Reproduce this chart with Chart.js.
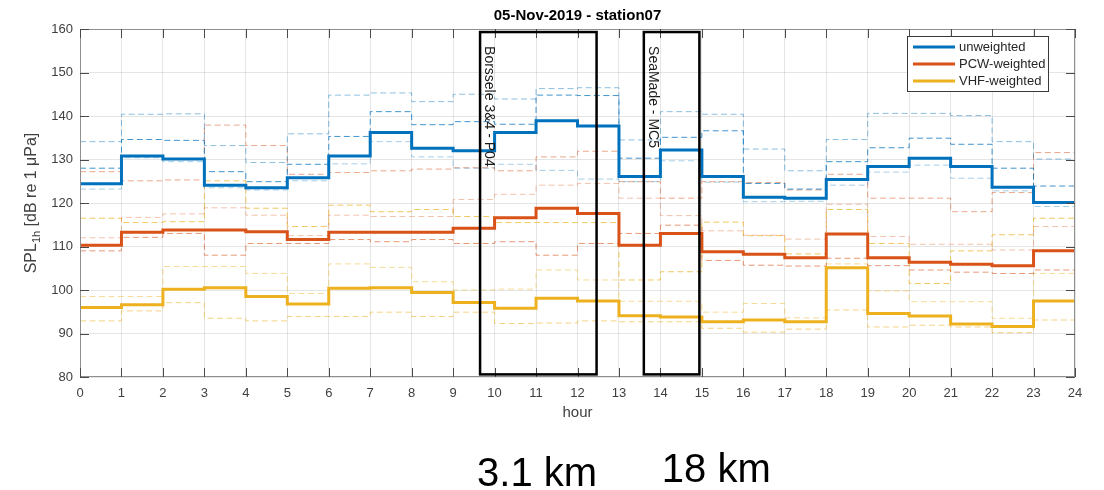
<!DOCTYPE html>
<html>
<head>
<meta charset="utf-8">
<script src="https://cdn.jsdelivr.net/npm/chart.js@4/dist/chart.umd.min.js"></script>
<style>
  html, body { margin: 0; padding: 0; background: #fff; }
  #wrap { position: relative; width: 1104px; height: 490px; }
  canvas { display: block; }
</style>
</head>
<body>
<div id="wrap"><canvas id="c" width="1104" height="490"></canvas></div>
<script>
// Hour bins (each value covers [h, h+1))
const hours = [0,1,2,3,4,5,6,7,8,9,10,11,12,13,14,15,16,17,18,19,20,21,22,23];

// Hourly SPL, dB re 1 µPa
const unweighted  = [124.4,130.8,130.1,124.1,123.5,125.8,130.8,136.2,132.6,132.0,136.2,138.9,137.7,126.1,132.2,126.1,121.3,121.1,125.4,128.4,130.3,128.4,123.6,120.1];
const pcwWeighted = [110.3,113.3,113.8,113.8,113.4,111.6,113.3,113.3,113.3,114.2,116.6,118.8,117.6,110.3,113.0,108.8,108.2,107.4,112.9,107.4,106.4,105.9,105.6,109.0];
const vhfWeighted = [96.0,96.6,100.2,100.5,98.5,96.8,100.4,100.5,99.4,97.1,95.8,98.1,97.5,94.1,93.8,92.7,93.1,92.7,105.1,94.6,94.0,92.2,91.6,97.5];

// Percentile levels (upper / middle / lower) per hour
const unwUpper = [134.1,140.4,140.5,133.2,129.3,135.9,144.8,145.3,143.3,145.0,143.9,146.3,146.5,134.5,141.0,140.4,132.4,127.4,134.6,140.6,140.6,140.1,134.1,130.1];
const unwMid   = [128.0,134.6,134.4,127.2,124.9,128.9,135.3,141.0,138.0,138.7,138.1,144.8,144.7,130.3,135.1,136.6,124.5,123.2,129.5,132.7,134.9,133.5,128.0,123.9];
const unwLower = [123.2,130.4,129.5,123.5,123.0,125.1,129.0,134.1,130.6,128.0,128.9,127.5,125.5,124.9,129.7,124.8,120.3,120.4,124.1,127.1,128.7,125.7,122.8,119.2];

const pcwUpper = [127.2,125.1,125.3,137.9,133.2,126.6,127.0,127.4,127.8,128.1,127.4,130.6,131.9,124.9,121.1,124.9,124.7,123.0,126.6,121.1,121.1,118.0,122.4,131.6];
const pcwMid   = [112.0,116.7,117.5,118.9,117.2,112.5,117.2,116.9,116.9,120.8,122.0,124.1,124.5,121.1,117.1,113.6,112.6,111.7,119.7,112.3,110.5,110.5,109.2,114.6];
const pcwLower = [109.0,112.1,113.0,108.0,110.7,110.7,111.6,111.1,111.6,110.7,111.1,108.0,110.7,113.0,114.9,106.8,105.7,105.5,107.3,105.6,104.6,104.1,103.8,104.6];

const vhfUpper = [116.5,115.5,115.7,125.1,118.8,114.6,119.5,118.0,118.5,116.9,115.5,115.5,115.5,102.3,104.2,115.6,112.5,108.3,118.5,110.7,101.5,109.0,112.7,116.5];
const vhfMid   = [98.5,98.5,105.4,105.4,103.8,99.2,106.0,105.2,101.9,100.0,100.2,104.6,102.3,97.4,97.4,94.9,96.9,93.6,106.0,99.8,97.3,97.3,93.5,103.8];
const vhfLower = [92.9,95.2,97.1,93.5,92.9,93.9,93.9,94.9,93.9,94.9,92.3,92.4,92.9,92.7,92.7,91.2,90.3,91.0,95.4,91.5,91.9,91.5,90.2,93.1];

// Wind-farm construction windows (hour span) and their distances
const farms = [
  { name: 'Borssele 3&4 - P04', from: 9.65, to: 12.46, distance: '3.1 km', dx: -3, base: 486 },
  { name: 'SeaMade - MC5',      from: 13.6, to: 14.94, distance: '18 km',  dx: 18, base: 482 }
];
const farmYRange = [80.6, 159.3];

const BLUE = '0,114,189', ORANGE = '217,83,25', YELLOW = '237,177,32';
const FONT = '"Liberation Sans", Arial, Helvetica, sans-serif';

// stairs: value i is held from hour i to hour i+1
function stairs(vals) {
  const pts = hours.map((h, i) => ({ x: h, y: vals[i] }));
  pts.push({ x: hours[hours.length - 1] + 1, y: vals[vals.length - 1] });
  return pts;
}
function mainSet(label, vals, rgb) {
  return { label, data: stairs(vals), stepped: 'before', borderColor: `rgb(${rgb})`,
           borderWidth: 3, pointRadius: 0, fill: false, order: 0 };
}
function dashSet(label, vals, rgb, alpha) {
  return { label, data: stairs(vals), stepped: 'before', borderColor: `rgba(${rgb},${alpha})`,
           borderWidth: 1, borderDash: [6, 3.5], pointRadius: 0, fill: false, order: 1 };
}

const datasets = [
  dashSet('unweighted upper', unwUpper, BLUE, 0.45),
  dashSet('unweighted mid', unwMid, BLUE, 0.75),
  dashSet('unweighted lower', unwLower, BLUE, 0.35),
  dashSet('PCW upper', pcwUpper, ORANGE, 0.5),
  dashSet('PCW mid', pcwMid, ORANGE, 0.35),
  dashSet('PCW lower', pcwLower, ORANGE, 0.6),
  dashSet('VHF upper', vhfUpper, YELLOW, 0.7),
  dashSet('VHF mid', vhfMid, YELLOW, 0.45),
  dashSet('VHF lower', vhfLower, YELLOW, 0.55),
  mainSet('unweighted', unweighted, BLUE),
  mainSet('PCW-weighted', pcwWeighted, ORANGE),
  mainSet('VHF-weighted', vhfWeighted, YELLOW)
];

// Box, inner ticks, annotations, title, labels and legend
const decor = {
  id: 'decor',
  afterDatasetsDraw(chart) {
    const { ctx, chartArea: a, scales: { x, y } } = chart;
    ctx.save();

    // axes box
    ctx.strokeStyle = '#8f8f8f';
    ctx.lineWidth = 1;
    ctx.strokeRect(a.left + 0.5, a.top + 0.5, a.right - a.left - 1, a.bottom - a.top - 1);

    // inward ticks
    ctx.strokeStyle = '#4a4a4a';
    ctx.beginPath();
    for (let h = 0; h <= 24; h++) {
      const px = Math.round(x.getPixelForValue(h)) + 0.5;
      ctx.moveTo(px, a.bottom); ctx.lineTo(px, a.bottom - 9);
      ctx.moveTo(px, a.top); ctx.lineTo(px, a.top + 9);
    }
    for (let v = 80; v <= 160; v += 10) {
      const py = Math.round(y.getPixelForValue(v)) + 0.5;
      ctx.moveTo(a.left, py); ctx.lineTo(a.left + 9, py);
      ctx.moveTo(a.right, py); ctx.lineTo(a.right - 9, py);
    }
    ctx.stroke();

    // construction windows
    ctx.strokeStyle = '#000';
    ctx.lineWidth = 2.5;
    farms.forEach(f => {
      const x0 = x.getPixelForValue(f.from), x1 = x.getPixelForValue(f.to);
      const y0 = y.getPixelForValue(farmYRange[1]), y1 = y.getPixelForValue(farmYRange[0]);
      ctx.strokeRect(x0, y0, x1 - x0, y1 - y0);
      ctx.save();
      ctx.translate(x0 + 9, y0 + 14);
      ctx.rotate(Math.PI / 2);
      ctx.fillStyle = '#1a1a1a';
      ctx.font = `14px ${FONT}`;
      ctx.textAlign = 'left';
      ctx.textBaseline = 'middle';
      ctx.fillText(f.name, 0, 0);
      ctx.restore();
      // distance label below the plot
      ctx.fillStyle = '#000';
      ctx.font = `40px ${FONT}`;
      ctx.textAlign = 'left';
      ctx.textBaseline = 'alphabetic';
      ctx.fillText(f.distance, x0 + f.dx, f.base);
    });

    // title
    ctx.fillStyle = '#000';
    ctx.font = `bold 15px ${FONT}`;
    ctx.textAlign = 'center';
    ctx.textBaseline = 'middle';
    ctx.fillText('05-Nov-2019 - station07', (a.left + a.right) / 2, 16);

    // x-axis title
    ctx.fillStyle = '#404040';
    ctx.font = `15px ${FONT}`;
    ctx.fillText('hour', (a.left + a.right) / 2, 413);

    // y-axis title with subscript
    ctx.save();
    ctx.translate(32, (a.top + a.bottom) / 2);
    ctx.rotate(-Math.PI / 2);
    const parts = [['SPL', 16, 0], ['1h', 11, 5], [' [dB re 1 μPa]', 16, 0]];
    let total = 0;
    parts.forEach(p => { ctx.font = `${p[1]}px ${FONT}`; total += ctx.measureText(p[0]).width; });
    let cx = -total / 2;
    ctx.textAlign = 'left';
    ctx.textBaseline = 'middle';
    parts.forEach(p => {
      ctx.font = `${p[1]}px ${FONT}`;
      ctx.fillText(p[0], cx, p[2]);
      cx += ctx.measureText(p[0]).width;
    });
    ctx.restore();

    // legend
    const lx = 907, ly = 36, lw = 141, lh = 55;
    ctx.fillStyle = '#fff';
    ctx.fillRect(lx, ly, lw, lh);
    ctx.strokeStyle = '#3a3a3a';
    ctx.lineWidth = 1;
    ctx.strokeRect(lx + 0.5, ly + 0.5, lw, lh);
    const entries = [['unweighted', BLUE], ['PCW-weighted', ORANGE], ['VHF-weighted', YELLOW]];
    ctx.font = `13px ${FONT}`;
    ctx.textAlign = 'left';
    ctx.textBaseline = 'middle';
    entries.forEach((e, i) => {
      const ey = ly + 11 + i * 17;
      ctx.strokeStyle = `rgb(${e[1]})`;
      ctx.lineWidth = 3;
      ctx.beginPath(); ctx.moveTo(lx + 6, ey); ctx.lineTo(lx + 48, ey); ctx.stroke();
      ctx.fillStyle = '#262626';
      ctx.fillText(e[0], lx + 52, ey);
    });
    ctx.restore();
  }
};

new Chart(document.getElementById('c'), {
  type: 'line',
  data: { datasets },
  options: {
    responsive: false,
    animation: false,
    layout: { padding: { top: 29, right: 29, left: 0, bottom: 0 } },
    plugins: { legend: { display: false }, tooltip: { enabled: false }, title: { display: false } },
    scales: {
      x: {
        type: 'linear', min: 0, max: 24,
        ticks: { stepSize: 1, color: '#404040', font: { family: FONT, size: 13 }, padding: 9, maxRotation: 0 },
        grid: { color: 'rgba(38,38,38,0.12)', drawTicks: false },
        border: { display: false },
        afterFit(s) { s.height = 113; }
      },
      y: {
        min: 80, max: 160,
        ticks: { stepSize: 10, color: '#404040', font: { family: FONT, size: 13 }, padding: 7 },
        grid: { color: 'rgba(38,38,38,0.12)', drawTicks: false },
        border: { display: false },
        afterFit(s) { s.width = 80; }
      }
    }
  },
  plugins: [decor]
});
</script>
</body>
</html>
